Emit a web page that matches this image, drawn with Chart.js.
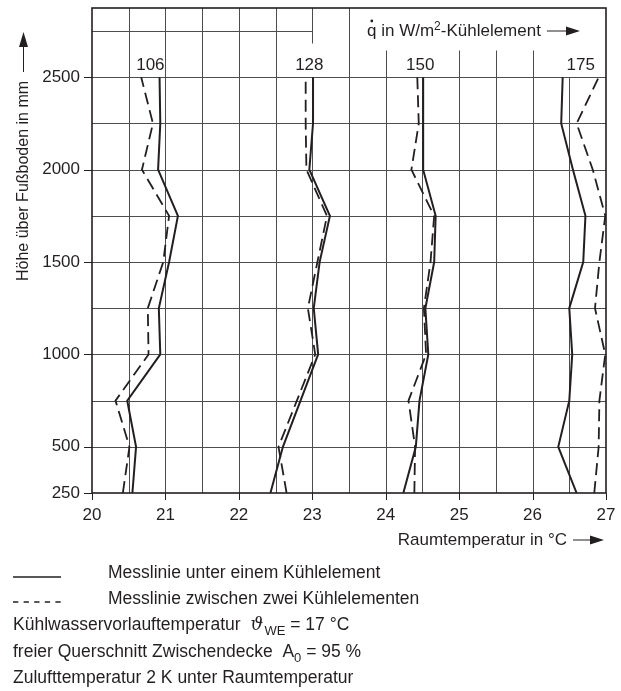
<!DOCTYPE html>
<html>
<head>
<meta charset="utf-8">
<script src="https://cdn.jsdelivr.net/npm/chart.js@4.4.1/dist/chart.umd.min.js"></script>
<style>
html, body { margin: 0; padding: 0; background: #fff; }
</style>
</head>
<body>
<canvas id="chart" width="621" height="691"></canvas>
<script>
// Messhöhen in mm
const hoehen = [250, 500, 750, 1000, 1250, 1500, 1750, 2000, 2250, 2500];
const qWerte = ['106', '128', '150', '175'];

// Messlinie unter einem Kühlelement (°C)
const unter106 = [20.55, 20.60, 20.48, 20.93, 20.91, 21.05, 21.17, 20.90, 20.93, 20.92];
const unter128 = [22.43, 22.60, 22.84, 23.08, 23.02, 23.10, 23.24, 22.96, 23.01, 23.01];
const unter150 = [24.24, 24.41, 24.46, 24.58, 24.54, 24.66, 24.68, 24.51, 24.51, 24.51];
const unter175 = [26.60, 26.35, 26.50, 26.54, 26.50, 26.69, 26.72, 26.55, 26.39, 26.41];

// Messlinie zwischen zwei Kühlelementen (°C)
const zwischen106 = [20.42, 20.51, 20.32, 20.77, 20.76, 20.97, 21.05, 20.68, 20.83, 20.67];
const zwischen128 = [22.65, 22.54, 22.79, 23.04, 22.94, 23.07, 23.20, 22.92, 22.91, 22.91];
const zwischen150 = [24.39, 24.40, 24.31, 24.55, 24.52, 24.61, 24.66, 24.35, 24.45, 24.43];
const zwischen175 = [26.84, 26.90, 26.91, 26.99, 26.85, 26.91, 26.99, 26.82, 26.60, 26.90];

const yLabels = [250, 500, 1000, 1500, 2000, 2500];

const unter = [unter106, unter128, unter150, unter175];
const zwischen = [zwischen106, zwischen128, zwischen150, zwischen175];

const FONT = '"Liberation Sans", Arial, sans-serif';
const TEXT = '#231f20';

function punkte(werte) {
  return werte.map((t, i) => ({ x: t, y: hoehen[i] }));
}

const datasets = [];
qWerte.forEach((q, i) => {
  datasets.push({ label: q + ' unter', data: punkte(unter[i]), borderColor: TEXT, borderWidth: 2 });
  datasets.push({ label: q + ' zwischen', data: punkte(zwischen[i]), borderColor: TEXT, borderWidth: 1.8, borderDash: [12, 6] });
});

function pfeil(ctx, x1, x2, y) {
  ctx.beginPath();
  ctx.lineWidth = 1;
  ctx.moveTo(x1, y); ctx.lineTo(x2 - 12, y); ctx.stroke();
  ctx.beginPath(); ctx.moveTo(x2, y); ctx.lineTo(x2 - 14, y - 4.5); ctx.lineTo(x2 - 14, y + 4.5); ctx.closePath(); ctx.fill();
}

// Raster, Teilstriche und Rahmen
const raster = {
  id: 'raster',
  beforeDatasetsDraw(chart) {
    const { ctx, chartArea: a, scales: { x, y } } = chart;
    const px = v => Math.round(x.getPixelForValue(v)) + 0.5;
    const py = v => Math.round(y.getPixelForValue(v)) + 0.5;
    const line = (x1, y1, x2, y2) => { ctx.beginPath(); ctx.moveTo(x1, y1); ctx.lineTo(x2, y2); ctx.stroke(); };
    ctx.save();
    ctx.strokeStyle = '#4d4d4d';
    ctx.lineWidth = 1;
    for (let v = 500; v <= 2500; v += 250) line(a.left, py(v), a.right, py(v));
    line(a.left, py(2750), px(23), py(2750));
    for (let t = 20.5; t < 27; t += 0.5) {
      let top = py(2500);
      if (t <= 22.5 || t === 23.5) top = a.top;
      else if (t === 24 || (t >= 25 && t <= 26)) top = py(2645);
      line(px(t), top, px(t), a.bottom);
    }
    line(px(23), a.top, px(23), py(2685));
    ctx.strokeStyle = TEXT;
    for (let t = 20; t <= 27; t++) line(px(t), a.bottom, px(t), a.bottom + 7);
    yLabels.forEach(v => line(a.left - 8, py(v), a.left, py(v)));
    ctx.lineWidth = 1.6;
    ctx.strokeRect(a.left, a.top, a.right - a.left, a.bottom - a.top);
    ctx.restore();
  },
  afterDatasetsDraw(chart) {
    const { ctx, scales: { x, y } } = chart;
    ctx.save();
    ctx.fillStyle = TEXT;
    ctx.strokeStyle = TEXT;
    ctx.font = '17px ' + FONT;
    ctx.textAlign = 'center';
    ctx.textBaseline = 'middle';
    qWerte.forEach((q, i) => {
      const mitte = (unter[i][9] + zwischen[i][9]) / 2;
      ctx.fillText(q, x.getPixelForValue(mitte), y.getPixelForValue(2500) - 12);
    });

    // q-Punkt Titel
    ctx.textAlign = 'left';
    let cx = 367;
    const ty = 31;
    ctx.fillText('q', cx, ty);
    ctx.beginPath(); ctx.arc(cx + 4.8, ty - 10, 1.4, 0, Math.PI * 2); ctx.fill();
    cx += ctx.measureText('q').width;
    ctx.fillText(' in W/m', cx, ty);
    cx += ctx.measureText(' in W/m').width;
    ctx.font = '12px ' + FONT;
    ctx.fillText('2', cx, ty - 4);
    cx += ctx.measureText('2').width;
    ctx.font = '17px ' + FONT;
    ctx.fillText('-Kühlelement', cx, ty);
    cx += ctx.measureText('-Kühlelement').width;
    pfeil(ctx, cx + 6, 580, ty);

    // y-Achsentitel
    ctx.save();
    ctx.translate(24, 181);
    ctx.rotate(-Math.PI / 2);
    ctx.font = '16px ' + FONT;
    ctx.textAlign = 'center';
    ctx.fillText('Höhe über Fußboden in mm', 0, 0);
    ctx.restore();
    ctx.beginPath(); ctx.lineWidth = 1; ctx.moveTo(23.5, 72); ctx.lineTo(23.5, 45); ctx.stroke();
    ctx.beginPath(); ctx.moveTo(23.5, 32); ctx.lineTo(19, 47); ctx.lineTo(28, 47); ctx.closePath(); ctx.fill();

    // x-Achsentitel
    ctx.textAlign = 'right';
    ctx.fillText('Raumtemperatur in °C', 567, 540);
    pfeil(ctx, 573, 604, 540);

    // Legende und Randbedingungen
    const LF = '17.5px ' + FONT;
    ctx.font = LF;
    ctx.textAlign = 'left';
    ctx.lineWidth = 1.4;
    ctx.beginPath(); ctx.moveTo(13, 577); ctx.lineTo(61, 577); ctx.stroke();
    ctx.setLineDash([5.3, 5.3]);
    ctx.beginPath(); ctx.moveTo(13, 602); ctx.lineTo(61, 602); ctx.stroke();
    ctx.setLineDash([]);
    ctx.fillText('Messlinie unter einem Kühlelement', 108, 573);
    ctx.fillText('Messlinie zwischen zwei Kühlelementen', 108, 599);

    let lx = 13;
    ctx.fillText('Kühlwasservorlauftemperatur', lx, 625);
    lx += ctx.measureText('Kühlwasservorlauftemperatur').width + 10;
    ctx.font = 'italic 18px "DejaVu Serif", serif';
    ctx.fillText('ϑ', lx, 625);
    lx += ctx.measureText('ϑ').width + 1;
    ctx.font = '13px ' + FONT;
    ctx.fillText('WE', lx, 631);
    lx += ctx.measureText('WE').width;
    ctx.font = LF;
    ctx.fillText(' = 17 °C', lx, 625);

    lx = 13;
    ctx.fillText('freier Querschnitt Zwischendecke  A', lx, 652);
    lx += ctx.measureText('freier Querschnitt Zwischendecke  A').width;
    ctx.font = '13px ' + FONT;
    ctx.fillText('0', lx, 658);
    lx += ctx.measureText('0').width;
    ctx.font = LF;
    ctx.fillText(' = 95 %', lx, 652);

    ctx.fillText('Zulufttemperatur 2 K unter Raumtemperatur', 13, 678);
    ctx.restore();
  }
};

new Chart(document.getElementById('chart'), {
  type: 'line',
  data: { datasets: datasets },
  options: {
    responsive: false,
    animation: false,
    layout: { padding: { left: 0, top: 8, right: 15, bottom: 163 } },
    elements: { point: { radius: 0 }, line: { tension: 0, borderCapStyle: 'butt' } },
    plugins: { legend: { display: false }, tooltip: { enabled: false } },
    scales: {
      x: {
        type: 'linear', min: 20, max: 27,
        grid: { display: false, drawTicks: false },
        border: { display: false },
        ticks: { stepSize: 1, padding: 12, color: TEXT, font: { family: FONT, size: 17 } },
        afterFit(s) { s.height = 35; s.paddingLeft = 0; s.paddingRight = 0; }
      },
      y: {
        type: 'linear', min: 250, max: 2875,
        grid: { display: false, drawTicks: false },
        border: { display: false },
        ticks: {
          stepSize: 250, autoSkip: false, padding: 12, color: TEXT, font: { family: FONT, size: 17 },
          callback: v => yLabels.includes(v) ? String(v) : ''
        },
        afterFit(s) { s.width = 92; s.paddingTop = 0; s.paddingBottom = 0; }
      }
    }
  },
  plugins: [raster]
});
</script>
</body>
</html>
